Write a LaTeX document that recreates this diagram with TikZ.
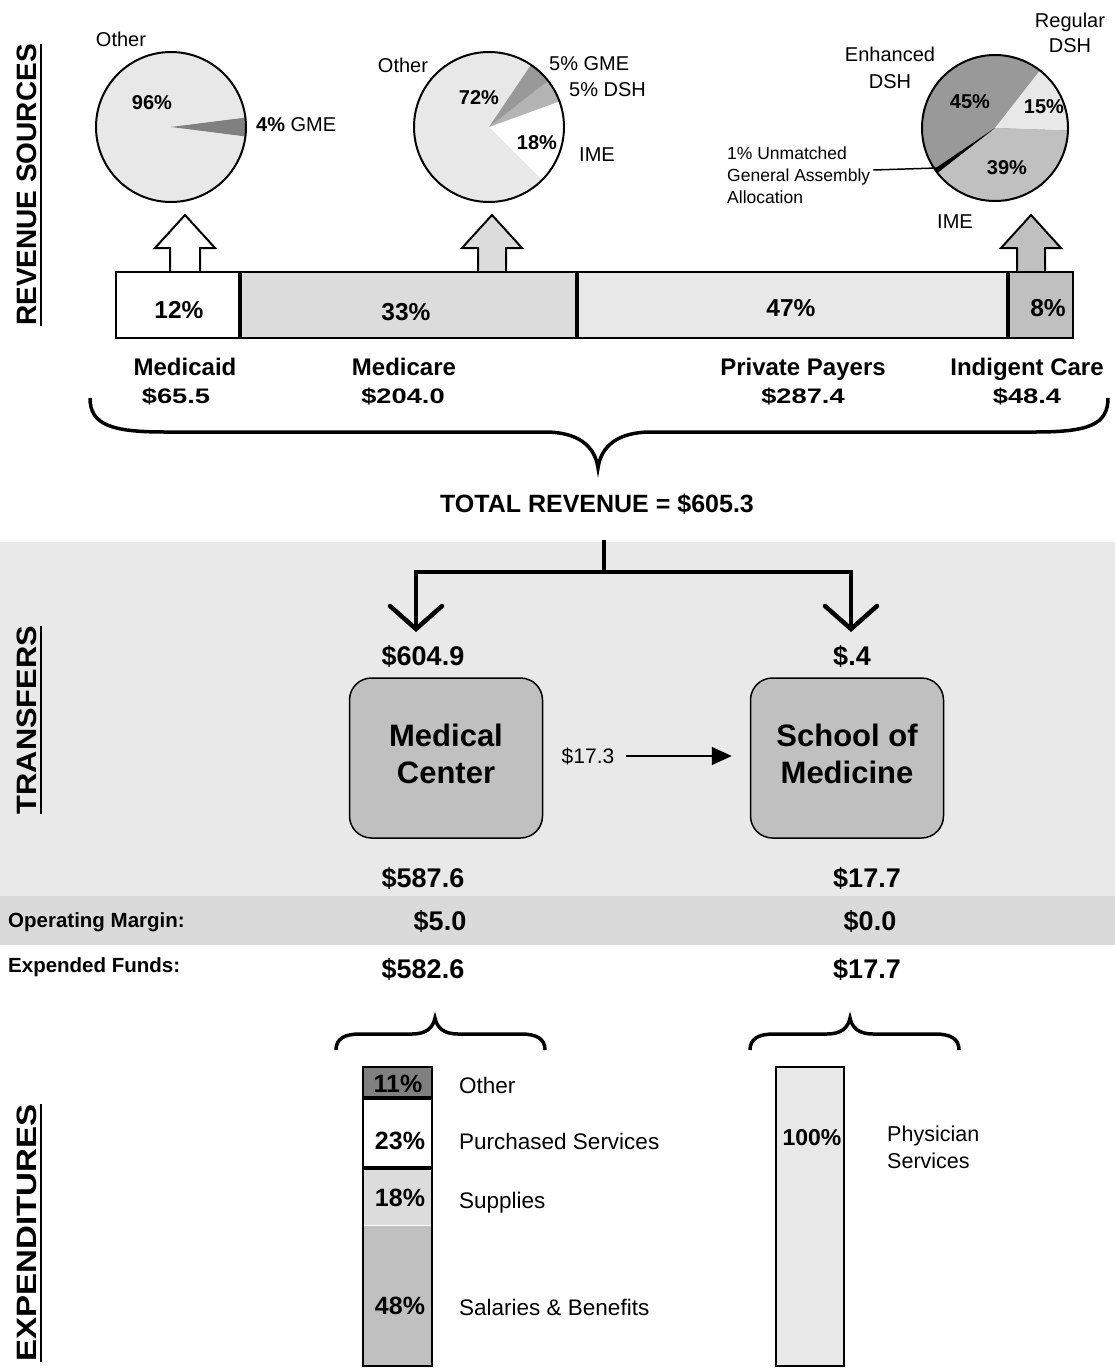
\documentclass[tikz,border=0pt]{standalone}
\usepackage{fontspec}
\setmainfont{Liberation Sans}
\usetikzlibrary{arrows.meta}
\definecolor{lg}{HTML}{E8E8E8}
\definecolor{mg}{HTML}{DCDCDC}
\definecolor{sg}{HTML}{C0C0C0}
\definecolor{bg}{HTML}{B4B4B4}
\definecolor{dg}{HTML}{999999}
\definecolor{xg}{HTML}{808080}
\definecolor{bandA}{HTML}{E9E9E9}
\definecolor{bandB}{HTML}{DADADA}
\newcommand{\wideval}[1]{\scalebox{1.3}[1]{#1}}
\begin{document}
\begin{tikzpicture}[x=1pt,y=-1pt,
  plbl/.style={inner sep=0pt, font=\fontsize{20}{24}\selectfont},
  ppct/.style={inner sep=0pt, text depth=0pt, font=\bfseries\fontsize{20}{24}\selectfont},
  barpct/.style={inner sep=0pt, text depth=0pt, font=\bfseries\fontsize{24.5}{28}\selectfont},
  srcname/.style={inner sep=0pt, text depth=0pt, font=\bfseries\fontsize{24}{28}\selectfont},
  srcval/.style={inner sep=0pt, text depth=0pt, font=\bfseries\fontsize{21}{24}\selectfont},
  bigval/.style={inner sep=0pt, text depth=0pt, font=\bfseries\fontsize{27}{30}\selectfont},
  rowlbl/.style={inner sep=0pt, text depth=0pt, anchor=west, font=\bfseries\fontsize{20.5}{24}\selectfont},
  side/.style={inner sep=0pt, rotate=90, anchor=south, text depth=0pt, font=\bfseries\fontsize{28}{30}\selectfont},
  entity/.style={draw, line width=1.5pt, fill=sg, rounded corners=22pt, minimum width=193pt, minimum height=160pt, inner sep=0pt},
  entitytext/.style={align=center, inner sep=0pt, font=\bfseries\fontsize{31}{37}\selectfont},
  conn/.style={line width=4.5pt},
  bracepath/.style={line width=3.5pt},
  outline/.style={line width=2.5pt},
  divider/.style={line width=4pt},
  blockarrow/.style={line width=2pt},
  exppct/.style={inner sep=0pt, text depth=0pt, font=\bfseries\fontsize{25}{28}\selectfont},
  explbl/.style={inner sep=0pt, text depth=0pt, anchor=west, font=\fontsize{22.5}{26}\selectfont},
  piedraw/.style={line width=2pt}
]
\useasboundingbox (0,0) rectangle (1115,1368);

% background bands
\fill[bandA] (0,542) rectangle (1115,896);
\fill[bandB] (0,896) rectangle (1115,945);

% side headings
\node[side] (hrev) at (37,185) {REVENUE SOURCES};
\draw[line width=2.5pt] ([xshift=4pt]hrev.south west) -- ([xshift=4pt]hrev.south east);
\node[side] (htr) at (37,720) {\scalebox{1.1}[1]{TRANSFERS}};
\draw[line width=2.5pt] ([xshift=4pt]htr.south west) -- ([xshift=4pt]htr.south east);
\node[side] (hexp) at (37,1233) {\scalebox{1.18}[1]{EXPENDITURES}};
\draw[line width=2.5pt] ([xshift=4pt]hexp.south west) -- ([xshift=4pt]hexp.south east);

% ---------- pie 1 (Medicaid) ----------
\begin{scope}[shift={(171,127)}, y=1pt]
  \fill[lg] (0,0) circle[radius=75];
  \fill[xg] (0,0) -- (-7.2:75) arc[start angle=-7.2, end angle=7.2, radius=75] -- cycle;
  \draw[piedraw] (0,0) circle[radius=75];
\end{scope}
\node[plbl] (p1other) at (121,39) {Other};
\node[ppct] (p1a) at (152,103) {96\%};
\node[plbl, anchor=west] (p1b) at (256,125) {\textbf{4\%} GME};

% ---------- pie 2 (Medicare) ----------
\begin{scope}[shift={(489,127)}, y=1pt]
  \fill[lg] (0,0) circle[radius=75];
  \fill[white] (0,0) -- (-45:75) arc[start angle=-45, end angle=20, radius=75] -- cycle;
  \fill[bg] (0,0) -- (20:75) arc[start angle=20, end angle=38, radius=75] -- cycle;
  \fill[dg] (0,0) -- (38:75) arc[start angle=38, end angle=56, radius=75] -- cycle;
  \draw[piedraw] (0,0) circle[radius=75];
\end{scope}
\node[plbl] (p2other) at (403,65) {Other};
\node[ppct] (p2a) at (479,98) {72\%};
\node[plbl, anchor=west] (p2gme) at (549,64) {5\% GME};
\node[plbl, anchor=west] (p2dsh) at (569,90) {5\% DSH};
\node[ppct] (p2b) at (537,143) {18\%};
\node[plbl] (p2ime) at (597,155) {IME};

% ---------- pie 3 (Indigent Care) ----------
\begin{scope}[shift={(995,128)}, y=1pt]
  \fill[dg] (0,0) circle[radius=73];
  \fill[lg] (0,0) -- (-2:73) arc[start angle=-2, end angle=52, radius=73] -- cycle;
  \fill[sg] (0,0) -- (-142:73) arc[start angle=-142, end angle=-2, radius=73] -- cycle;
  \fill[black] (0,0) -- (-146:73) arc[start angle=-146, end angle=-142, radius=73] -- cycle;
  \draw[piedraw] (0,0) circle[radius=73];
\end{scope}
\node[plbl, align=center, font=\fontsize{20}{25}\selectfont] (p3reg) at (1070,33) {Regular\\DSH};
\node[plbl, align=center, font=\fontsize{20}{27}\selectfont] (p3enh) at (890,68) {Enhanced\\DSH};
\node[ppct] (p3a) at (970,102) {45\%};
\node[ppct] (p3b) at (1044,107) {15\%};
\node[ppct] (p3c) at (1007,168) {39\%};
\node[plbl, align=left, anchor=west, font=\fontsize{17.5}{22}\selectfont] (unm) at (727,175) {1\% Unmatched\\General Assembly\\Allocation};
\coordinate (unmtip) at (937,168);
\draw[line width=1.5pt] ([xshift=3pt,yshift=5pt]unm.east) -- (unmtip);
\node[plbl] (p3ime) at (955,222) {IME};

% ---------- block arrows ----------
\fill[white] (170,273) -- (170,248) -- (155,248) -- (185,215) -- (215,248) -- (200,248) -- (200,273) -- cycle;
\draw[blockarrow] (170,273) -- (170,248) -- (155,248) -- (185,215) -- (215,248) -- (200,248) -- (200,273);
\fill[mg] (478,273) -- (478,248) -- (462,248) -- (492,215) -- (522,248) -- (506,248) -- (506,273) -- cycle;
\draw[blockarrow] (478,273) -- (478,248) -- (462,248) -- (492,215) -- (522,248) -- (506,248) -- (506,273);
\fill[sg] (1017,273) -- (1017,248) -- (1001,248) -- (1031,215) -- (1061,248) -- (1045,248) -- (1045,273) -- cycle;
\draw[blockarrow] (1017,273) -- (1017,248) -- (1001,248) -- (1031,215) -- (1061,248) -- (1045,248) -- (1045,273);

% ---------- revenue bar ----------
\fill[white] (116,272) rectangle (240,338);
\fill[mg] (240,272) rectangle (577,338);
\fill[lg] (577,272) rectangle (1008,338);
\fill[sg] (1008,272) rectangle (1073,338);
\draw[outline] (116,272) rectangle (1073,338);
\draw[divider] (240,272) -- (240,338);
\draw[divider] (577,272) -- (577,338);
\draw[divider] (1008,272) -- (1008,338);
\node[barpct] (b1) at (179,310) {12\%};
\node[barpct] (b2) at (406,312) {33\%};
\node[barpct] (b3) at (791,308) {47\%};
\node[barpct] (b4) at (1048,308) {8\%};

\node[srcname] (n1) at (185,367) {Medicaid};
\node[srcval] (v1) at (176,396) {\wideval{\$65.5}};
\node[srcname] (n2) at (404,367) {Medicare};
\node[srcval] (v2) at (403,396) {\wideval{\$204.0}};
\node[srcname] (n3) at (803,367) {Private Payers};
\node[srcval] (v3) at (803,396) {\wideval{\$287.4}};
\node[srcname] (n4) at (1027,367) {Indigent Care};
\node[srcval] (v4) at (1027,396) {\wideval{\$48.4}};

% ---------- total brace ----------
\coordinate (brL) at (90,398);
\coordinate (brM) at (598,468);
\coordinate (brR) at (1108,398);
\draw[bracepath] (brL) .. controls (90,425) and (112,432) .. (165,432) -- (545,432)
  .. controls (578,432) and (595,446) .. (brM)
  .. controls (601,446) and (618,432) .. (651,432) -- (1035,432)
  .. controls (1088,432) and (1108,425) .. (brR);
\node[inner sep=0pt, text depth=0pt, font=\bfseries\fontsize{25}{30}\selectfont] (total) at (597,503) {TOTAL REVENUE = \$605.3};

% ---------- transfers ----------
\coordinate (stemtop) at (604,540);
\coordinate (split) at (604,572);
\coordinate (ltip) at (416,629);
\coordinate (rtip) at (851,629);
\draw[conn] (stemtop) -- (split);
\draw[conn] (ltip) |- (split) -| (rtip);
\draw[conn, line cap=round] ([shift={(-26,-23)}]ltip) -- (ltip) -- ([shift={(26,-23)}]ltip);
\draw[conn, line cap=round] ([shift={(-26,-23)}]rtip) -- (rtip) -- ([shift={(26,-23)}]rtip);

\node[bigval] (in1) at (423,655) {\$604.9};
\node[bigval] (in2) at (852,655) {\$.4};

\node[entity] (mc) at (446,758) {};
\node[entitytext] (mctext) at (446,754) {Medical\\Center};
\node[entity] (sm) at (847,758) {};
\node[entitytext] (smtext) at (847,754) {School of\\Medicine};
\node[inner sep=0pt, text depth=0pt, font=\fontsize{21}{24}\selectfont] (t17) at (588,756) {\$17.3};
\draw[line width=1.5pt, -{Triangle[length=20pt,width=18pt]}] ([xshift=12pt]t17.east) -- ([xshift=-18pt]sm.west |- t17.east);

\node[bigval] (out1) at (423,877) {\$587.6};
\node[bigval] (out2) at (867,877) {\$17.7};
\node[rowlbl] (om) at (8,920) {Operating Margin:};
\node[bigval] (om1) at (440,920) {\$5.0};
\node[bigval] (om2) at (870,920) {\$0.0};
\node[rowlbl] (ef) at (8,965) {Expended Funds:};
\node[bigval] (ef1) at (423,968) {\$582.6};
\node[bigval] (ef2) at (867,968) {\$17.7};

% ---------- expenditure braces ----------
\coordinate (ebL1) at (336,1050);
\coordinate (ebM1) at (435,1018);
\coordinate (ebR1) at (545,1050);
\draw[bracepath] (ebL1) .. controls (336,1039) and (344,1034) .. (360,1034) -- (412,1034)
  .. controls (426,1034) and (433,1028) .. (ebM1)
  .. controls (437,1028) and (444,1034) .. (458,1034) -- (521,1034)
  .. controls (537,1034) and (545,1039) .. (ebR1);
\coordinate (ebL2) at (750,1050);
\coordinate (ebM2) at (850,1018);
\coordinate (ebR2) at (959,1050);
\draw[bracepath] (ebL2) .. controls (750,1039) and (758,1034) .. (774,1034) -- (827,1034)
  .. controls (841,1034) and (848,1028) .. (ebM2)
  .. controls (852,1028) and (859,1034) .. (873,1034) -- (935,1034)
  .. controls (951,1034) and (959,1039) .. (ebR2);

% ---------- expenditure bars ----------
\fill[xg] (363,1067) rectangle (432,1098);
\fill[white] (363,1098) rectangle (432,1168);
\fill[mg] (363,1168) rectangle (432,1225);
\fill[sg] (363,1225) rectangle (432,1366);
\draw[line width=1pt, white] (364,1225) -- (431,1225);
\draw[line width=3.5pt] (363,1098) -- (432,1098);
\draw[line width=3.5pt] (363,1168) -- (432,1168);
\draw[line width=2pt] (363,1067) rectangle (432,1366);
\node[exppct] (e1) at (398,1084) {11\%};
\node[exppct] (e2) at (400,1141) {23\%};
\node[exppct] (e3) at (400,1198) {18\%};
\node[exppct] (e4) at (400,1306) {48\%};
\node[explbl] (l1) at (459,1085) {Other};
\node[explbl] (l2) at (459,1141) {Purchased Services};
\node[explbl] (l3) at (459,1200) {Supplies};
\node[explbl] (l4) at (459,1307) {Salaries \& Benefits};

\fill[lg] (776,1067) rectangle (844,1366);
\draw[line width=2pt] (776,1067) rectangle (844,1366);
\node[inner sep=0pt, text depth=0pt, font=\bfseries\fontsize{23}{26}\selectfont] (e5) at (812,1137) {100\%};
\node[plbl, anchor=west, align=left, font=\fontsize{21.5}{27}\selectfont] (l5) at (887,1147) {Physician\\Services};
\end{tikzpicture}
\end{document}
